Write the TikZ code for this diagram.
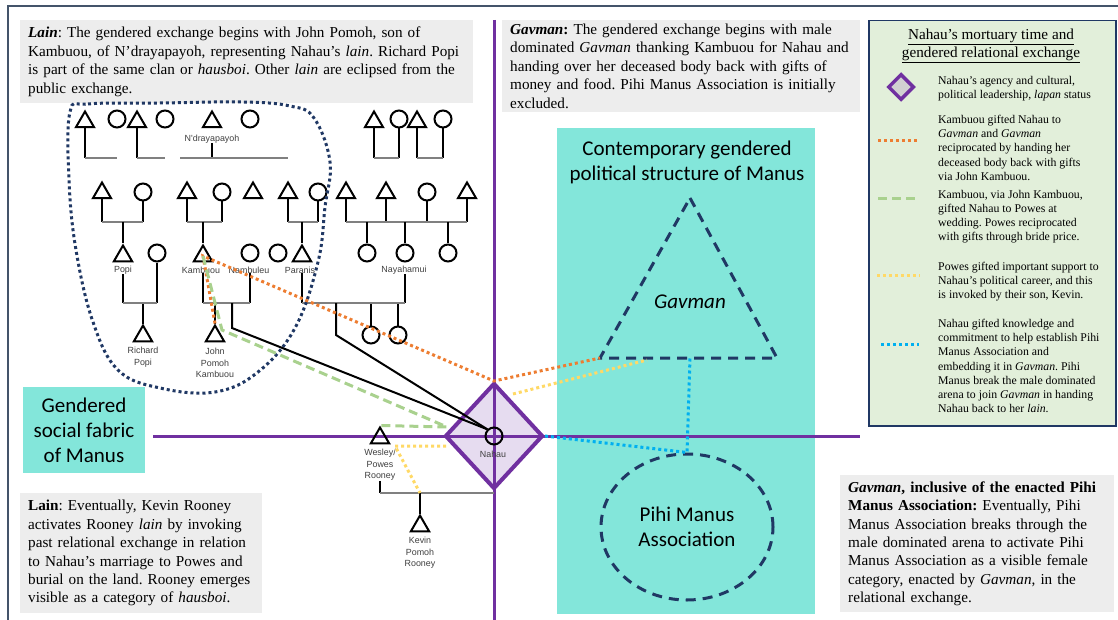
\documentclass[tikz,border=0pt]{standalone}
\usepackage{fontspec}
\setmainfont{Liberation Serif}
\newfontfamily\calibri{Carlito}
\newfontfamily\arialf{Liberation Sans}
\usetikzlibrary{shapes.geometric,positioning,calc}
\frenchspacing
\definecolor{notegray}{RGB}{237,237,237}
\definecolor{manusteal}{RGB}{131,230,218}
\definecolor{lapanpurple}{RGB}{112,48,160}
\definecolor{lapanfill}{RGB}{230,220,240}
\definecolor{giftorange}{RGB}{237,125,49}
\definecolor{giftgreen}{RGB}{169,209,142}
\definecolor{giftyellow}{RGB}{255,217,102}
\definecolor{giftblue}{RGB}{0,176,240}
\definecolor{navyline}{RGB}{32,56,100}
\definecolor{legendgreen}{RGB}{226,239,218}
\definecolor{framegray}{RGB}{68,84,106}
\tikzset{
    note/.style={fill=notegray, anchor=north west, inner xsep=8pt,
                 inner ysep=0pt, align=left,
                 font=\fontsize{15.2}{18.4}\selectfont},
    keytext/.style={anchor=north west, inner sep=0pt, align=left,
                    font=\fontsize{11.8}{14.2}\selectfont},
    tealtext/.style={align=center, inner sep=0pt,
                     font=\calibri\fontsize{21}{25}\selectfont},
    male/.style={regular polygon, regular polygon sides=3, draw,
                 line width=2pt, minimum size=21pt, inner sep=0pt},
    female/.style={circle, draw, line width=2pt, minimum size=17pt,
                   inner sep=0pt},
    kin/.style={font=\arialf\fontsize{8.9}{11.6}\selectfont,
                text=black!75, align=center, inner sep=0pt},
    stem/.style={line width=2pt},
    bar/.style={line width=2.6pt, draw=black!50},
    axis/.style={line width=3pt, draw=lapanpurple},
    giftO/.style={line width=3pt, draw=giftorange, dash pattern=on 3pt off 3pt},
    giftG/.style={line width=3pt, draw=giftgreen, dash pattern=on 9pt off 5pt},
    giftY/.style={line width=3pt, draw=giftyellow, dash pattern=on 3pt off 3pt},
    giftB/.style={line width=3pt, draw=giftblue, dash pattern=on 3pt off 3pt},
    lainline/.style={line width=3pt, draw=navyline, dash pattern=on 3pt off 3pt},
    navydash/.style={line width=3pt, draw=navyline, dash pattern=on 10pt off 7pt},
}
\begin{document}
\begin{tikzpicture}[x=1pt, y=-1pt]
    \useasboundingbox (0,0) rectangle (1118,620);
    \draw[framegray, line width=1.2pt] (8,630) -- (8,6) -- (1130,6);

    % text panels
    \node[note, text width=437pt, minimum height=83pt] (lainTop) at (20,20)
        {\textbf{\textit{Lain}}: The gendered exchange begins with John Pomoh, son of\\
         Kambuou, of N’drayapayoh, representing Nahau’s \textit{lain}. Richard Popi\\
         is part of the same clan or \textit{hausboi}. Other \textit{lain} are eclipsed from the\\
         public exchange.};
    \node[note, text width=342pt, minimum height=92pt] (gavTop) at (502,20)
        {\textbf{\textit{Gavman}:} The gendered exchange begins with male\\
         dominated \textit{Gavman} thanking Kambuou for Nahau and\\
         handing over her deceased body back with gifts of\\
         money and food. Pihi Manus Association is initially\\
         excluded.};
    \node[note, text width=226pt, minimum height=120pt] (lainBot) at (20,493)
        {\textbf{Lain}: Eventually, Kevin Rooney\\
         activates Rooney \textit{lain} by invoking\\
         past relational exchange in relation\\
         to Nahau’s marriage to Powes and\\
         burial on the land. Rooney emerges\\
         visible as a category of \textit{hausboi}.};
    \node[note, text width=258pt, minimum height=137pt] (gavBot) at (840,475)
        {\textbf{\textit{Gavman}, inclusive of the enacted Pihi}\\
         \textbf{Manus Association:} Eventually, Pihi\\
         Manus Association breaks through the\\
         male dominated arena to activate Pihi\\
         Manus Association as a visible female\\
         category, enacted by \textit{Gavman}, in the\\
         relational exchange.};

    % structure of Manus
    \node[fill=manusteal, minimum width=258pt, minimum height=486pt,
          anchor=north west, inner sep=0pt] (polArea) at (557,128) {};
    \node[tealtext] (polTitle) at (687,162)
        {Contemporary gendered\\political structure of Manus};
    \node[tealtext, fill=manusteal, minimum width=122pt, minimum height=86pt]
        (fabric) at (84,430) {Gendered\\social fabric\\of Manus};

    % legend
    \node[draw=navyline, line width=1.5pt, fill=legendgreen, minimum width=247pt,
          minimum height=405pt, anchor=north west] (legend) at (868,20) {};
    \node[font=\fontsize{15.2}{18}\selectfont, align=center, anchor=north,
          inner sep=0pt] (legTitle) at (991,29)
        {\underline{Nahau’s mortuary time and}\\\underline{gendered relational exchange}};
    \node[diamond, draw=lapanpurple, fill=black!18, line width=3.5pt,
          minimum width=26pt, minimum height=26pt, inner sep=0pt] (keyD) at (901,87) {};
    \node[keytext] (keyDtxt) at (938,76)
        {Nahau’s agency and cultural,\\political leadership, \textit{lapan} status};
    \draw[giftO] (878,141) -- (917,141);
    \node[keytext] (keyO) at (938,115)
        {Kambuou gifted Nahau to\\\textit{Gavman} and \textit{Gavman}\\reciprocated by handing her\\
         deceased body back with gifts\\via John Kambuou.};
    \draw[giftG] (878,199) -- (917,199);
    \node[keytext] (keyG) at (938,190)
        {Kambuou, via John Kambuou,\\gifted Nahau to Powes at\\wedding. Powes reciprocated\\
         with gifts through bride price.};
    \draw[giftY] (877,275) -- (920,275);
    \node[keytext] (keyY) at (938,262)
        {Powes gifted important support to\\Nahau’s political career, and this\\
         is invoked by their son, Kevin.};
    \draw[giftB] (881,344) -- (919,344);
    \node[keytext] (keyB) at (938,319)
        {Nahau gifted knowledge and\\commitment to help establish Pihi\\Manus Association and\\
         embedding it in \textit{Gavman}. Pihi\\Manus break the male dominated\\
         arena to join \textit{Gavman} in handing\\Nahau back to her \textit{lain}.};

    % kinship, first generation
    \coordinate (bar1) at (0,158);
    \coordinate (bar2) at (0,222);
    \coordinate (bar3) at (0,303);
    \coordinate (bar4) at (0,493);
    \node[male] (a1) at (85,122) {};
    \node[female] (a2) at (117,119) {};
    \node[male] (a3) at (137,122) {};
    \node[female] (a4) at (165,119) {};
    \node[male] (a5) at (212,122) {};
    \node[female] (a6) at (250,119) {};
    \node[kin] (ndr) at (212,139) {N'drayapayoh};
    \node[male] (a7) at (374,122) {};
    \node[female] (a8) at (399,119) {};
    \node[male] (a9) at (417,122) {};
    \node[female] (a10) at (443,119) {};
    \draw[stem] (a1.south) -- (a1 |- bar1);
    \draw[stem] (a3.south) -- (a3 |- bar1);
    \draw[stem] (ndr.south) -- (ndr |- bar1);
    \draw[stem] (a7.south) -- (a7 |- bar1);
    \draw[stem] (a8.south) -- (a8 |- bar1);
    \draw[stem] (a9.south) -- (a9 |- bar1);
    \draw[stem] (a10.south) -- (a10 |- bar1);
    \draw[bar] (a1 |- bar1) -- (a2 |- bar1);
    \draw[bar] (a3 |- bar1) -- (a4 |- bar1);
    \draw[bar] ($(ndr |- bar1)+(-32,0)$) -- ($(ndr |- bar1)+(76,0)$);
    \draw[bar] (a7 |- bar1) -- (a8 |- bar1);
    \draw[bar] (a9 |- bar1) -- (a10 |- bar1);

    % second generation
    \node[male] (b1) at (102,193) {};
    \node[female] (b2) at (143,192) {};
    \node[male] (b3) at (187,193) {};
    \node[female] (b4) at (222,192) {};
    \node[male] (b5) at (253,193) {};
    \node[male] (b6) at (288,193) {};
    \node[female] (b7) at (318,192) {};
    \node[male] (b8) at (346,193) {};
    \node[male] (b9) at (386,193) {};
    \node[female] (b10) at (427,192) {};
    \node[male] (b11) at (467,193) {};
    \foreach \p in {b1,b2,b3,b4,b6,b7,b8,b9,b10,b11}
        \draw[stem] (\p.south) -- (\p |- bar2);
    \draw[bar] (b1 |- bar2) -- (b2 |- bar2);
    \draw[bar] (b3 |- bar2) -- (b4 |- bar2);
    \draw[bar] (b6 |- bar2) -- (b7 |- bar2);
    \draw[bar] (b8 |- bar2) -- (b11 |- bar2);

    % third generation
    \node[male] (popi) at (123,256) {};
    \node[female] (c1) at (157,253) {};
    \node[male] (kamb) at (203,256) {};
    \node[female] (namb) at (250,253) {};
    \node[female] (c2) at (278,253) {};
    \node[male] (para) at (302,256) {};
    \node[female] (c3) at (367,253) {};
    \node[female] (naya) at (405,253) {};
    \node[female] (c4) at (448,253) {};
    \node[kin] (popiL) at (123,270) {Popi};
    \node[kin] (kambL) at (201,270) {Kambuou};
    \node[kin] (nambL) at (249,270) {Nambuleu};
    \node[kin] (paraL) at (300,270) {Paranis};
    \node[kin] (nayaL) at (404,270) {Nayahamui};
    \foreach \p in {popi,kamb,para,c3,naya,c4}
        \draw[stem] (\p.north |- bar2) -- (\p.north);

    % fourth generation
    \node[male] (rich) at (143,336) {};
    \node[kin] (richL) at (143,357) {Richard\\Popi};
    \node[male] (john) at (215,336) {};
    \node[kin] (johnL) at (215,363) {John\\Pomoh\\Kambuou};
    \node[female] (d1) at (371,335) {};
    \node[female] (d2) at (398,335) {};
    \coordinate (kbend) at (232,328);
    \coordinate (pbend) at (336,335);
    \draw[stem] (popi |- popiL.south) -- (popi |- bar3);
    \draw[stem] (c1.south) -- (c1 |- bar3);
    \draw[stem] (kamb |- kambL.south) -- (kamb |- bar3);
    \draw[stem] (namb |- nambL.south) -- (namb |- bar3);
    \draw[stem] (para |- paraL.south) -- (para |- bar3);
    \draw[stem] (naya |- nayaL.south) -- (naya |- bar3);
    \draw[stem] (rich.north |- bar3) -- (rich.north);
    \draw[stem] (john.north |- bar3) -- (john.north);
    \draw[stem] (d1.north |- bar3) -- (d1.north);
    \draw[stem] (d2.north |- bar3) -- (d2.north);
    \draw[bar] (popi |- bar3) -- (c1 |- bar3);
    \draw[bar] (kamb |- bar3) -- (namb |- bar3);
    \draw[bar] (para |- bar3) -- (naya |- bar3);

    % lain boundary
    \draw[lainline] plot[smooth cycle, tension=0.65] coordinates {
        (70,112) (88,104) (160,103) (243,102) (290,106) (314,118) (330,162)
        (325,207) (318,262) (295,328) (258,372) (215,392) (160,388)
        (118,370) (93,322) (76,250) (69,180)};

    % Nahau
    \node[diamond, draw=lapanpurple, fill=lapanfill, line width=4pt,
          minimum width=98pt, minimum height=106pt, inner sep=0pt] (lapan) at (494,436) {};
    \draw[axis] (494,20) -- (494,620);
    \draw[axis] (153,436) -- (860,436);
    \node[female] (nahau) at (494,436) {};
    \node[kin] (nahauL) at (493,454) {Nahau};
    \node[male] (wes) at (380,438) {};
    \node[kin] (wesL) at (380,465) {Wesley/\\Powes\\Rooney};
    \node[male] (kev) at (420,526) {};
    \node[kin] (kevL) at (420,553) {Kevin\\Pomoh\\Rooney};
    \draw[stem] (wes |- wesL.south) -- (wes |- bar4);
    \draw[bar] (wes |- bar4) -- (lapan |- bar4);
    \draw[stem] (kev.north |- bar4) -- (kev.north);
    \draw[stem] (kbend |- bar3) -- (kbend) -- (nahau.north west);
    \draw[stem] (pbend |- bar3) -- (pbend) -- (nahau.north west);

    % Gavman and Pihi Manus
    \coordinate (gavT) at (690,198);
    \coordinate (gavL) at (600,358);
    \coordinate (gavR) at (777,358);
    \coordinate (gavB) at (690,358);
    \coordinate (gavY) at (647,360);
    \draw[navydash] (gavT) -- (gavR) -- (gavL) -- cycle;
    \node[tealtext, font=\calibri\itshape\fontsize{21}{25}\selectfont] (gavman)
        at (690,302) {Gavman};
    \node[ellipse, navydash, minimum width=172pt, minimum height=146pt,
          inner sep=0pt, tealtext] (pihi) at (687,527) {Pihi Manus\\Association};

    % gifts
    \coordinate (gbend) at (222,330);
    \coordinate (ybend) at (395,446);
    \draw[giftO] (john.north) -- (kamb.center) -- (lapan.north) -- (gavL);
    \draw[giftG] (kamb.center) -- (gbend) -- ($(lapan.west)+(4,-9)$) -- (wes.north);
    \draw[giftY] ($(lapan.west)+(3,10)$) -- (ybend) -- (kev.north |- bar4);
    \draw[giftY] ($(lapan.north)+(19,13)$) -- (gavY);
    \draw[giftB] (lapan.east) -- (pihi.north) -- (gavB);
\end{tikzpicture}
\end{document}
